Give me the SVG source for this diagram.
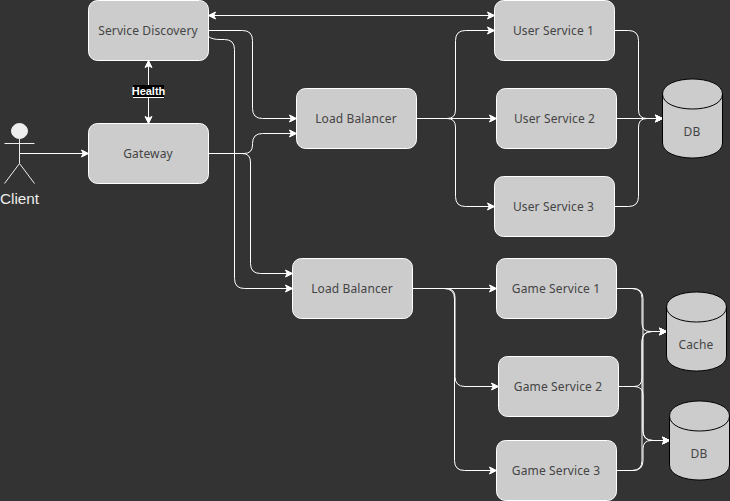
<svg xmlns="http://www.w3.org/2000/svg" width="730" height="501" viewBox="0 0 730 501">
<style>
.n{fill:#cccccc;stroke:#ffffff;stroke-width:1}
.c{fill:#cccccc;stroke:#000000;stroke-width:1}
.t{font-family:"Noto Sans","Open Sans",sans-serif;font-size:12px;letter-spacing:0.12px;fill:#444444;text-anchor:middle}
.e{fill:none;stroke:#ffffff;stroke-width:1;marker-end:url(#a)}
.b{marker-start:url(#s)}
</style>
<defs>
<marker id="a" markerUnits="userSpaceOnUse" markerWidth="10" markerHeight="10" refX="8" refY="4" orient="auto" overflow="visible"><path d="M1 0.5L8 4L1 7.5L2.75 4Z" fill="#fff" stroke="#fff"/></marker>
<marker id="s" markerUnits="userSpaceOnUse" markerWidth="10" markerHeight="10" refX="0" refY="4" orient="auto" overflow="visible"><path d="M7 0.5L0 4L7 7.5L5.25 4Z" fill="#fff" stroke="#fff"/></marker>
</defs>
<rect width="730" height="501" fill="#333333"/>
<g id="connectors">
<path class="e" d="M19.5 153.5H88.5"/>
<path class="e b" d="M148.5 60.5V123.5"/>
<path class="e b" d="M208.5 15.5H494.5"/>
<path class="e" d="M208.5 30.5H242.5Q252.5 30.5 252.5 40.5V108.5Q252.5 118.5 262.5 118.5H296.5"/>
<path class="e" d="M208.5 36.5Q212 39.5 220 39.5H224.500Q234.500 39.500 234.500 49.500V278.500Q234.500 288.500 244.500 288.500H292.500"/>
<path class="e" d="M208.500 153.500H244Q252.500 153.500 252.500 145V143.500Q252.500 133.500 262.500 133.500H296.500"/>
<path class="e" d="M208.500 153.500H242Q250.500 153.500 250.500 162V263.500Q250.500 273.500 260.500 273.500H292.500"/>
<path class="e" d="M416.500 118.500H447Q455.500 118.500 455.500 110V40.500Q455.500 30.500 465.500 30.500H494.500"/>
<path class="e" d="M416.500 118.500H496.500"/>
<path class="e" d="M416.500 118.500H447Q455.500 118.500 455.500 127V196.500Q455.500 206.500 465.500 206.500H494.500"/>
<path class="e" d="M614.500 30.500H628.500Q638.500 30.500 638.500 40.500V110Q638.500 118.500 647 118.500H662.500"/>
<path class="e" d="M616.500 118.500H662.500"/>
<path class="e" d="M614.500 206.500H628.500Q638.500 206.500 638.500 196.500V127Q638.500 118.500 647 118.500H662.500"/>
<path class="e" d="M412.500 288.500H496.500"/>
<path class="e" d="M412.500 288.500H446Q455 288.500 455 297V376.500Q455 386.500 465 386.500H498.500"/>
<path class="e" d="M412.500 288.500H444Q454.500 288.500 454.500 299V460.500Q454.500 470.500 464.500 470.500H496.500"/>
<path class="e" d="M616.500 288.500H632Q642 288.500 642 298.500V323Q642 331.500 650 331.500H666.500"/>
<path class="e" d="M618.500 386.500H634Q642 386.500 642 378V341.500Q642 331.500 652 331.500H666.500"/>
<path class="e" d="M616.500 470.500H632Q642 470.500 642 460.500V341.500Q642 331.500 652 331.500H666.500"/>
<path class="e" d="M616.500 288.500H633Q643 288.500 643 298.500V430.500Q643 440.500 653 440.500H669.500"/>
<path class="e" d="M618.500 386.500H634Q643 386.500 643 395V430.500Q643 440.500 653 440.500H669.500"/>
<path class="e" d="M616.500 470.500H633Q643 470.500 643 460.500V449Q643 440.500 651 440.500H669.500"/>
</g>
<g id="health-label"><rect x="133" y="85" width="31" height="12.500" fill="#000000"/><path d="M133 97.500H164" stroke="#fff" stroke-width="1"/><text x="148.500" y="95" font-family="Liberation Sans,Arial,sans-serif" font-size="11" font-weight="700" fill="#ffffff" text-anchor="middle">Health</text></g>
<g id="client" fill="none" stroke="#ffffff">
<ellipse cx="19.500" cy="131" rx="8" ry="7.500" fill="#eeeeee" stroke="#eeeeee"/>
<path d="M19.500 138.500V163.500M4.500 143.500H34.500M19.500 163.500L4.500 183.500M19.500 163.500L34.500 183.500" stroke="#eeeeee"/>
<text x="19.500" y="204" font-family="Liberation Sans,Arial,sans-serif" font-size="15.300" fill="#eeeeee" stroke="none" text-anchor="middle">Client</text>
</g>
<g id="service-discovery"><rect class="n" x="88.500" y="0.500" width="120" height="60" rx="9"/><text class="t" x="148" y="35">Service Discovery</text></g>
<g id="gateway"><rect class="n" x="88.500" y="123.500" width="120" height="60" rx="9"/><text class="t" x="148" y="158">Gateway</text></g>
<g id="lb1"><rect class="n" x="296.500" y="88.500" width="120" height="60" rx="9"/><text class="t" x="356" y="123">Load Balancer</text></g>
<g id="lb2"><rect class="n" x="292.500" y="258.500" width="120" height="60" rx="9"/><text class="t" x="352" y="293">Load Balancer</text></g>
<g id="us1"><rect class="n" x="494.500" y="0.500" width="120" height="60" rx="9"/><text class="t" x="553.500" y="35">User Service 1</text></g>
<g id="us2"><rect class="n" x="496.500" y="88.500" width="120" height="60" rx="9"/><text class="t" x="554.500" y="123">User Service 2</text></g>
<g id="us3"><rect class="n" x="494.500" y="176.500" width="120" height="60" rx="9"/><text class="t" x="553.500" y="211">User Service 3</text></g>
<g id="gs1"><rect class="n" x="496.500" y="258.500" width="120" height="60" rx="9"/><text class="t" x="556" y="293">Game Service 1</text></g>
<g id="gs2"><rect class="n" x="498.500" y="356.500" width="120" height="60" rx="9"/><text class="t" x="558" y="391">Game Service 2</text></g>
<g id="gs3"><rect class="n" x="496.500" y="440.500" width="120" height="60" rx="9"/><text class="t" x="556" y="475">Game Service 3</text></g>
<g id="db1"><path class="c" d="M662.500 94C662.500 74 722.500 74 722.500 94V143C722.500 163 662.500 163 662.500 143Z"/><path class="c" style="fill:none" d="M662.500 94C662.500 114 722.500 114 722.500 94"/><text class="t" x="692" y="136">DB</text></g>
<g id="cache"><path class="c" d="M666.500 307C666.500 287 726.500 287 726.500 307V356C726.500 376 666.500 376 666.500 356Z"/><path class="c" style="fill:none" d="M666.500 307C666.500 327 726.500 327 726.500 307"/><text class="t" x="696" y="349">Cache</text></g>
<g id="db2"><path class="c" d="M669.500 416C669.500 396 729.500 396 729.500 416V465C729.500 485 669.500 485 669.500 465Z"/><path class="c" style="fill:none" d="M669.500 416C669.500 436 729.500 436 729.500 416"/><text class="t" x="699" y="458">DB</text></g>
</svg>
